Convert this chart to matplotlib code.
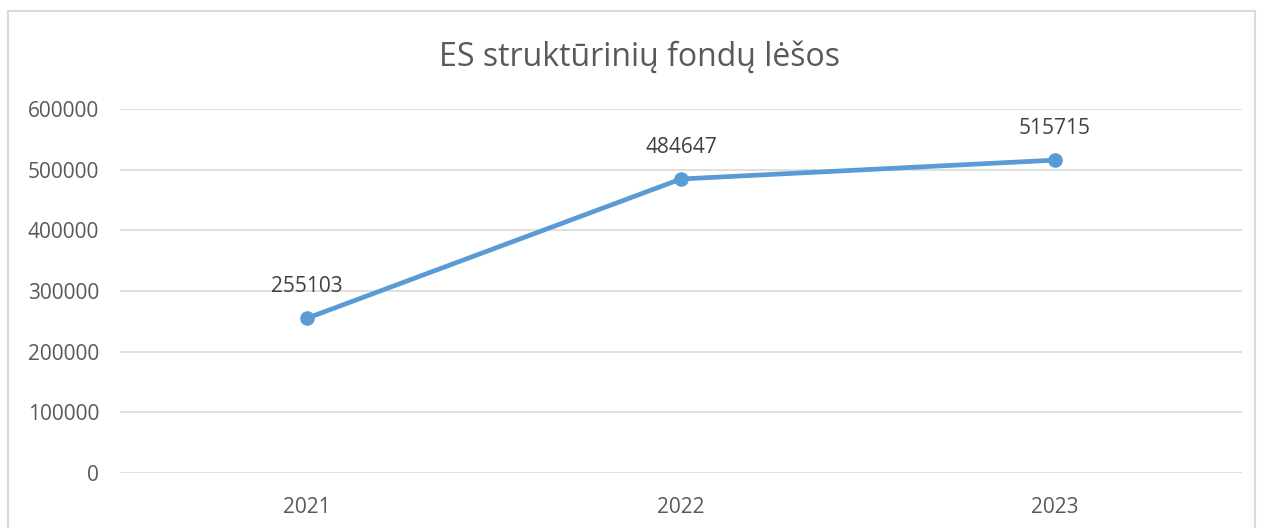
import matplotlib.pyplot as plt
from matplotlib.patches import Rectangle

years = ['2021', '2022', '2023']
values = [255103, 484647, 515715]
y_ticks = [0, 100000, 200000, 300000, 400000, 500000, 600000]

plt.rcParams['font.family'] = ['Open Sans', 'DejaVu Sans']

fig = plt.figure(figsize=(12.61, 5.28), dpi=100)
ax = fig.add_axes([120 / 1261, 1 - 473 / 528, 1122 / 1261, 364 / 528])

# chart area border
fig.patches.append(Rectangle((8 / 1261, -0.01), 1247 / 1261, 1 - 11 / 528 + 0.01,
                             transform=fig.transFigure, fill=False,
                             edgecolor='#d9d9d9', lw=1.5))

x = list(range(len(years)))
ax.plot(x, values, color='#5b9bd5', lw=3.4, marker='o', markersize=9.5,
        solid_capstyle='round', zorder=3)
for xi, v in zip(x, values):
    ax.annotate(str(v), (xi, v), xytext=(0, 15), textcoords='offset points',
                ha='center', va='bottom', fontsize=15, color='#404040')

ax.set_xlim(-0.5, len(years) - 0.5)
ax.set_ylim(0, 600000)
ax.set_xticks(x)
ax.set_xticklabels(years)
ax.set_yticks(y_ticks)
ax.set_yticklabels([str(t) for t in y_ticks])
ax.grid(axis='y', color='#d9d9d9', lw=1.2)
ax.set_axisbelow(True)
for s in ax.spines.values():
    s.set_visible(False)
ax.tick_params(axis='both', length=0, labelsize=15, colors='#595959')
ax.tick_params(axis='y', pad=15)
ax.tick_params(axis='x', pad=17)

fig.text(0.507, 1 - 57 / 528, 'ES struktūrinių fondų lėšos', ha='center',
         va='center', fontsize=23, color='#595959')

plt.savefig('out.png', dpi=100)
